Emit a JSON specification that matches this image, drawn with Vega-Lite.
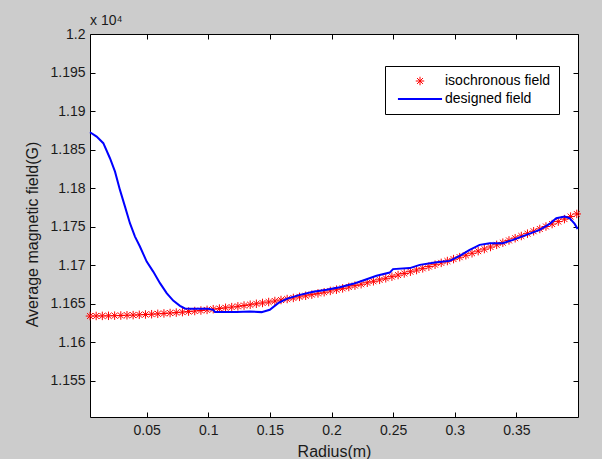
{
  "$schema": "https://vega.github.io/schema/vega-lite/v6.json",
  "width": 488,
  "height": 383,
  "autosize": {"type": "none"},
  "padding": {"left": 90, "top": 34, "right": 24, "bottom": 42},
  "background": "#cccccc",
  "config": {
    "view": {"fill": "white", "stroke": null},
    "font": "Liberation Sans",
    "axis": {
      "domainColor": "#000000", "domainWidth": 1,
      "tickColor": "#000000", "tickWidth": 1, "tickSize": -5,
      "grid": false,
      "labelFont": "Liberation Sans", "labelFontSize": 14, "labelColor": "#1a1a1a",
      "titleFont": "Liberation Sans", "titleFontSize": 16, "titleFontWeight": "normal", "titleColor": "#1a1a1a"
    }
  },
  "datasets": {
    "iso": [
      {"r":0.004,"B":11634.0,"series":"isochronous field"},{"r":0.009,"B":11634.1,"series":"isochronous field"},{"r":0.014,"B":11634.2,"series":"isochronous field"},{"r":0.019,"B":11634.3,"series":"isochronous field"},{"r":0.024,"B":11634.5,"series":"isochronous field"},{"r":0.029,"B":11634.7,"series":"isochronous field"},{"r":0.034,"B":11635.0,"series":"isochronous field"},{"r":0.039,"B":11635.2,"series":"isochronous field"},{"r":0.044,"B":11635.6,"series":"isochronous field"},{"r":0.049,"B":11636.0,"series":"isochronous field"},
      {"r":0.054,"B":11636.4,"series":"isochronous field"},{"r":0.059,"B":11636.9,"series":"isochronous field"},{"r":0.064,"B":11637.4,"series":"isochronous field"},{"r":0.069,"B":11637.9,"series":"isochronous field"},{"r":0.074,"B":11638.5,"series":"isochronous field"},{"r":0.079,"B":11639.1,"series":"isochronous field"},{"r":0.084,"B":11639.8,"series":"isochronous field"},{"r":0.089,"B":11640.5,"series":"isochronous field"},{"r":0.094,"B":11641.2,"series":"isochronous field"},{"r":0.099,"B":11642.0,"series":"isochronous field"},
      {"r":0.104,"B":11642.9,"series":"isochronous field"},{"r":0.109,"B":11643.7,"series":"isochronous field"},{"r":0.114,"B":11644.7,"series":"isochronous field"},{"r":0.119,"B":11645.6,"series":"isochronous field"},{"r":0.124,"B":11646.6,"series":"isochronous field"},{"r":0.129,"B":11647.6,"series":"isochronous field"},{"r":0.134,"B":11648.7,"series":"isochronous field"},{"r":0.139,"B":11649.9,"series":"isochronous field"},{"r":0.144,"B":11651.0,"series":"isochronous field"},{"r":0.149,"B":11652.2,"series":"isochronous field"},
      {"r":0.154,"B":11653.5,"series":"isochronous field"},{"r":0.159,"B":11654.8,"series":"isochronous field"},{"r":0.164,"B":11656.1,"series":"isochronous field"},{"r":0.169,"B":11657.5,"series":"isochronous field"},{"r":0.174,"B":11658.9,"series":"isochronous field"},{"r":0.179,"B":11660.3,"series":"isochronous field"},{"r":0.184,"B":11661.8,"series":"isochronous field"},{"r":0.189,"B":11663.4,"series":"isochronous field"},{"r":0.194,"B":11664.9,"series":"isochronous field"},{"r":0.199,"B":11666.6,"series":"isochronous field"},
      {"r":0.204,"B":11668.2,"series":"isochronous field"},{"r":0.209,"B":11669.9,"series":"isochronous field"},{"r":0.214,"B":11671.7,"series":"isochronous field"},{"r":0.219,"B":11673.5,"series":"isochronous field"},{"r":0.224,"B":11675.3,"series":"isochronous field"},{"r":0.229,"B":11677.2,"series":"isochronous field"},{"r":0.234,"B":11679.1,"series":"isochronous field"},{"r":0.239,"B":11681.0,"series":"isochronous field"},{"r":0.244,"B":11683.0,"series":"isochronous field"},{"r":0.249,"B":11685.1,"series":"isochronous field"},
      {"r":0.254,"B":11687.2,"series":"isochronous field"},{"r":0.259,"B":11689.3,"series":"isochronous field"},{"r":0.264,"B":11691.5,"series":"isochronous field"},{"r":0.269,"B":11693.7,"series":"isochronous field"},{"r":0.274,"B":11695.9,"series":"isochronous field"},{"r":0.279,"B":11698.2,"series":"isochronous field"},{"r":0.284,"B":11700.6,"series":"isochronous field"},{"r":0.289,"B":11703.0,"series":"isochronous field"},{"r":0.294,"B":11705.4,"series":"isochronous field"},{"r":0.299,"B":11707.9,"series":"isochronous field"},
      {"r":0.304,"B":11710.4,"series":"isochronous field"},{"r":0.309,"B":11712.9,"series":"isochronous field"},{"r":0.314,"B":11715.5,"series":"isochronous field"},{"r":0.319,"B":11718.2,"series":"isochronous field"},{"r":0.324,"B":11720.9,"series":"isochronous field"},{"r":0.329,"B":11723.6,"series":"isochronous field"},{"r":0.334,"B":11726.4,"series":"isochronous field"},{"r":0.339,"B":11729.2,"series":"isochronous field"},{"r":0.344,"B":11732.1,"series":"isochronous field"},{"r":0.349,"B":11735.0,"series":"isochronous field"},
      {"r":0.354,"B":11737.9,"series":"isochronous field"},{"r":0.359,"B":11740.9,"series":"isochronous field"},{"r":0.364,"B":11744.0,"series":"isochronous field"},{"r":0.369,"B":11747.0,"series":"isochronous field"},{"r":0.374,"B":11750.2,"series":"isochronous field"},{"r":0.379,"B":11753.4,"series":"isochronous field"},{"r":0.384,"B":11756.6,"series":"isochronous field"},{"r":0.389,"B":11759.8,"series":"isochronous field"},{"r":0.394,"B":11763.1,"series":"isochronous field"},{"r":0.399,"B":11766.5,"series":"isochronous field"}
    ],
    "des": [
      {"r":0.004,"B":11872.5},{"r":0.0094,"B":11866.8},{"r":0.0148,"B":11858.3},{"r":0.0202,"B":11838.8},{"r":0.0243,"B":11821.4},{"r":0.0283,"B":11797.7},{"r":0.0324,"B":11776.0},{"r":0.0364,"B":11754.5},{"r":0.0405,"B":11737.1},{"r":0.0445,"B":11724.2},
      {"r":0.050,"B":11704.7},{"r":0.0553,"B":11691.7},{"r":0.0608,"B":11676.7},{"r":0.0662,"B":11663.7},{"r":0.0715,"B":11654.1},{"r":0.077,"B":11647.3},{"r":0.081,"B":11643.8},{"r":0.0851,"B":11643.4},{"r":0.0932,"B":11643.4},{"r":0.0999,"B":11643.4},
      {"r":0.104,"B":11642.1},{"r":0.1054,"B":11639.1},{"r":0.123,"B":11639.1},{"r":0.1337,"B":11639.9},{"r":0.1432,"B":11639.1},{"r":0.1499,"B":11642.1},{"r":0.1567,"B":11650.8},{"r":0.1635,"B":11656.3},{"r":0.1743,"B":11661.5},{"r":0.1851,"B":11665.4},
      {"r":0.1959,"B":11668.0},{"r":0.2067,"B":11671.5},{"r":0.2175,"B":11675.8},{"r":0.2256,"B":11680.1},{"r":0.2365,"B":11686.2},{"r":0.2472,"B":11690.4},{"r":0.2499,"B":11694.9},{"r":0.2635,"B":11696.2},{"r":0.2716,"B":11700.4},{"r":0.2851,"B":11703.9},
      {"r":0.2959,"B":11705.6},{"r":0.304,"B":11712.1},{"r":0.3121,"B":11719.9},{"r":0.3202,"B":11726.4},{"r":0.3283,"B":11728.6},{"r":0.3391,"B":11728.6},{"r":0.3472,"B":11732.9},{"r":0.3581,"B":11739.3},{"r":0.3689,"B":11745.8},{"r":0.377,"B":11753.6},
      {"r":0.3824,"B":11761.0},{"r":0.3892,"B":11763.1},{"r":0.3932,"B":11761.0},{"r":0.3973,"B":11753.6},{"r":0.3997,"B":11747.1}
    ],
    "note": [{"r": 0.004, "B": 12000, "label": "x 10⁴"}]
  },
  "layer": [
    {
      "data": {"name": "iso"},
      "mark": {"type": "point", "filled": false, "opacity": 1, "size": 72},
      "encoding": {
        "x": {"field": "r", "type": "quantitative", "scale": {"domain": [0.004, 0.4], "nice": false, "zero": false},
              "axis": {"orient": "top", "labels": false, "title": null, "values": [0.05, 0.1, 0.15, 0.2, 0.25, 0.3, 0.35]}},
        "y": {"field": "B", "type": "quantitative", "scale": {"domain": [11503, 12000], "nice": false, "zero": false},
              "axis": {"orient": "right", "labels": false, "title": null, "values": [11550, 11600, 11650, 11700, 11750, 11800, 11850, 11900, 11950, 12000]}},
        "color": {"field": "series", "type": "nominal",
                  "scale": {"domain": ["isochronous field", "designed field"], "range": ["#ff0000", "#0000ff"]},
                  "legend": {"title": null, "orient": "none", "legendX": 295, "legendY": 32, "strokeColor": "#000000", "fillColor": "#ffffff", "padding": 8, "rowPadding": 4, "labelFontSize": 14, "labelColor": "#000000", "labelFont": "Liberation Sans", "labelOffset": 18, "symbolOffset": 20, "symbolSize": 72, "symbolOpacity": 1, "cornerRadius": 0}},
        "shape": {"field": "series", "type": "nominal",
                  "scale": {"domain": ["isochronous field", "designed field"], "range": ["M0,-1L0,1M-1,0L1,0M-0.7,-0.7L0.7,0.7M-0.7,0.7L0.7,-0.7", "M-5.2,0L5.2,0"]}},
        "strokeWidth": {"field": "series", "type": "nominal",
                 "scale": {"domain": ["isochronous field", "designed field"], "range": [1, 2]}}
      }
    },
    {
      "data": {"name": "des"},
      "mark": {"type": "line", "color": "#0000ff", "strokeWidth": 2},
      "encoding": {
        "x": {"field": "r", "type": "quantitative", "scale": {"domain": [0.004, 0.4], "nice": false, "zero": false},
              "axis": {"orient": "bottom", "title": "Radius(m)", "format": "~g", "labelPadding": 11.5, "titleY": 39.5, "titleBaseline": "alphabetic", "values": [0.05, 0.1, 0.15, 0.2, 0.25, 0.3, 0.35]}},
        "y": {"field": "B", "type": "quantitative", "scale": {"domain": [11503, 12000], "nice": false, "zero": false},
              "axis": {"orient": "left", "title": "Average magnetic field(G)", "labelExpr": "format(datum.value/10000, '.4~r')", "labelPadding": 10, "titleX": -58, "titleY": 200, "titleBaseline": "middle", "values": [11550, 11600, 11650, 11700, 11750, 11800, 11850, 11900, 11950, 12000]}}
      }
    },
    {
      "data": {"name": "note"},
      "mark": {"type": "text", "align": "left", "baseline": "alphabetic", "dy": -9, "fontSize": 14, "color": "#1a1a1a", "font": "Liberation Sans"},
      "encoding": {
        "x": {"field": "r", "type": "quantitative", "axis": null},
        "y": {"field": "B", "type": "quantitative", "axis": null},
        "text": {"field": "label"}
      }
    }
  ],
  "resolve": {"axis": {"x": "independent", "y": "independent"}}
}
